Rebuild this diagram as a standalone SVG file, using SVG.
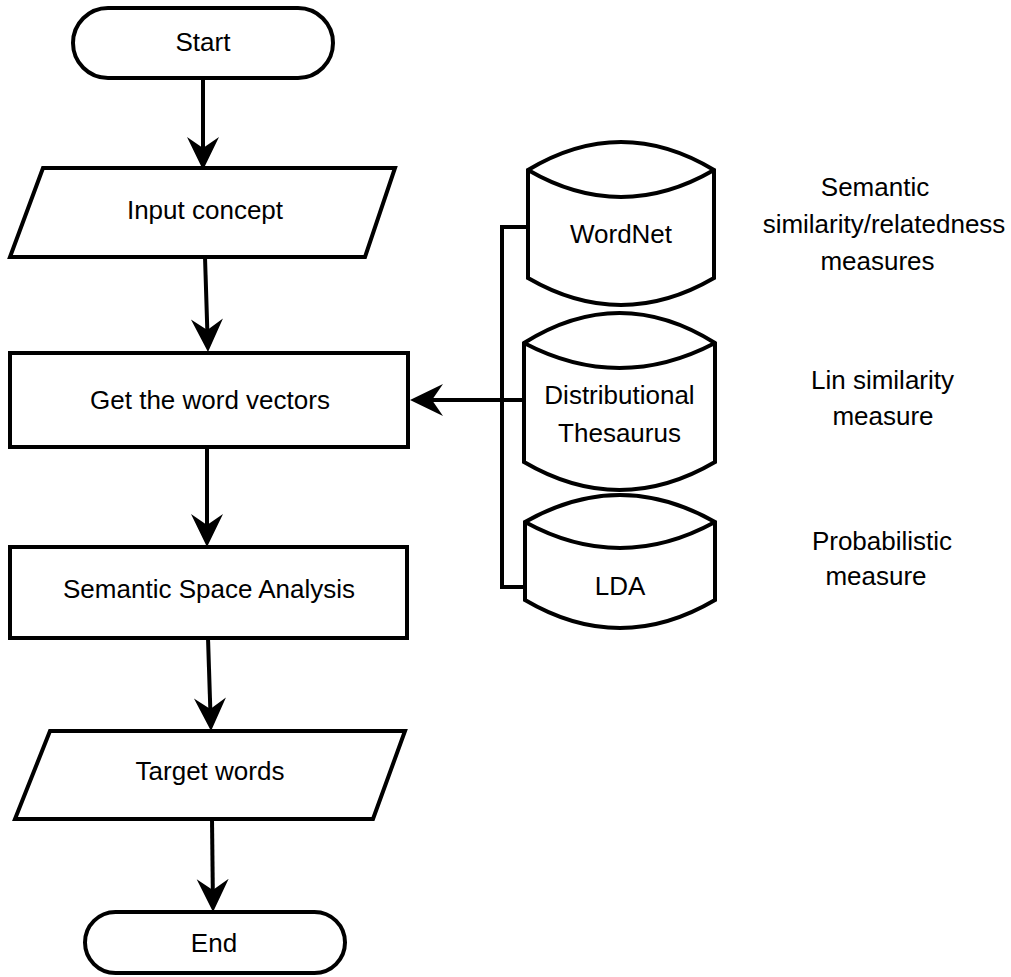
<svg xmlns="http://www.w3.org/2000/svg" width="1011" height="977" viewBox="0 0 1011 977">
  <style>
    .shape { fill: #ffffff; stroke: #000000; stroke-width: 4; stroke-linejoin: miter; }
    .line { fill: none; stroke: #000000; stroke-width: 4; }
    .label { font-family: "Liberation Sans", Arial, sans-serif; font-size: 26px; fill: #000000; text-anchor: middle; }
  </style>
  <defs>
    <marker id="arrow" markerUnits="userSpaceOnUse" markerWidth="34" markerHeight="34" viewBox="0 0 34 34" refX="12" refY="17" orient="auto">
      <path d="M1,1 L34,17 L1,33 L12,17 Z" fill="#000000"/>
    </marker>
  </defs>

  <rect width="1011" height="977" fill="#ffffff"/>

  <!-- connectors -->
  <g id="connectors">
    <line class="line" x1="203" y1="78" x2="203" y2="148" marker-end="url(#arrow)"/>
    <line class="line" x1="205" y1="257" x2="207.3" y2="330" marker-end="url(#arrow)"/>
    <line class="line" x1="207" y1="447" x2="207" y2="525" marker-end="url(#arrow)"/>
    <line class="line" x1="208" y1="638" x2="210.3" y2="709" marker-end="url(#arrow)"/>
    <line class="line" x1="212" y1="819" x2="212.8" y2="890" marker-end="url(#arrow)"/>
    <line class="line" x1="526" y1="400" x2="432" y2="400" marker-end="url(#arrow)"/>
    <polyline class="line" points="530,227 502,227 502,587 527,587"/>
  </g>

  <!-- flow nodes -->
  <g id="start">
    <rect class="shape" x="73" y="8" width="260" height="70" rx="35" ry="35"/>
    <text class="label" x="203" y="51">Start</text>
  </g>
  <g id="input-concept">
    <polygon class="shape" points="43,168 395,168 365,257 10,257"/>
    <text class="label" x="205" y="219">Input concept</text>
  </g>
  <g id="word-vectors">
    <rect class="shape" x="10" y="353" width="398" height="94"/>
    <text class="label" x="210" y="409">Get the word vectors</text>
  </g>
  <g id="semantic-space">
    <rect class="shape" x="10" y="547" width="397" height="91"/>
    <text class="label" x="209" y="598">Semantic Space Analysis</text>
  </g>
  <g id="target-words">
    <polygon class="shape" points="50,731 405,731 373,819 15,819"/>
    <text class="label" x="210" y="780">Target words</text>
  </g>
  <g id="end">
    <rect class="shape" x="85" y="912" width="260" height="61" rx="30.5" ry="30.5"/>
    <text class="label" x="214" y="952">End</text>
  </g>

  <!-- resources -->
  <g id="wordnet">
    <path class="shape" d="M528,170 Q621,114 714,170 L714,278 Q621,332 528,278 Z"/>
    <path class="line" d="M528,170 Q621,224 714,170"/>
    <text class="label" x="621" y="243">WordNet</text>
  </g>
  <g id="distributional-thesaurus">
    <path class="shape" d="M524,343 Q619.5,283 715,343 L715,462 Q619.5,518 524,462 Z"/>
    <path class="line" d="M524,343 Q619.5,393 715,343"/>
    <text class="label" x="619.5" y="404">Distributional</text>
    <text class="label" x="619.5" y="442">Thesaurus</text>
  </g>
  <g id="lda">
    <path class="shape" d="M525,522 Q620,468 715,522 L715,600 Q620,656 525,600 Z"/>
    <path class="line" d="M525,522 Q620,574 715,522"/>
    <text class="label" x="620" y="595">LDA</text>
  </g>

  <!-- measure annotations -->
  <g id="note-wordnet">
    <text class="label" x="875" y="196">Semantic</text>
    <text class="label" x="884" y="233">similarity/relatedness</text>
    <text class="label" x="877.5" y="270">measures</text>
  </g>
  <g id="note-thesaurus">
    <text class="label" x="882.5" y="389">Lin similarity</text>
    <text class="label" x="883" y="425">measure</text>
  </g>
  <g id="note-lda">
    <text class="label" x="882" y="550">Probabilistic</text>
    <text class="label" x="876" y="585">measure</text>
  </g>
</svg>
